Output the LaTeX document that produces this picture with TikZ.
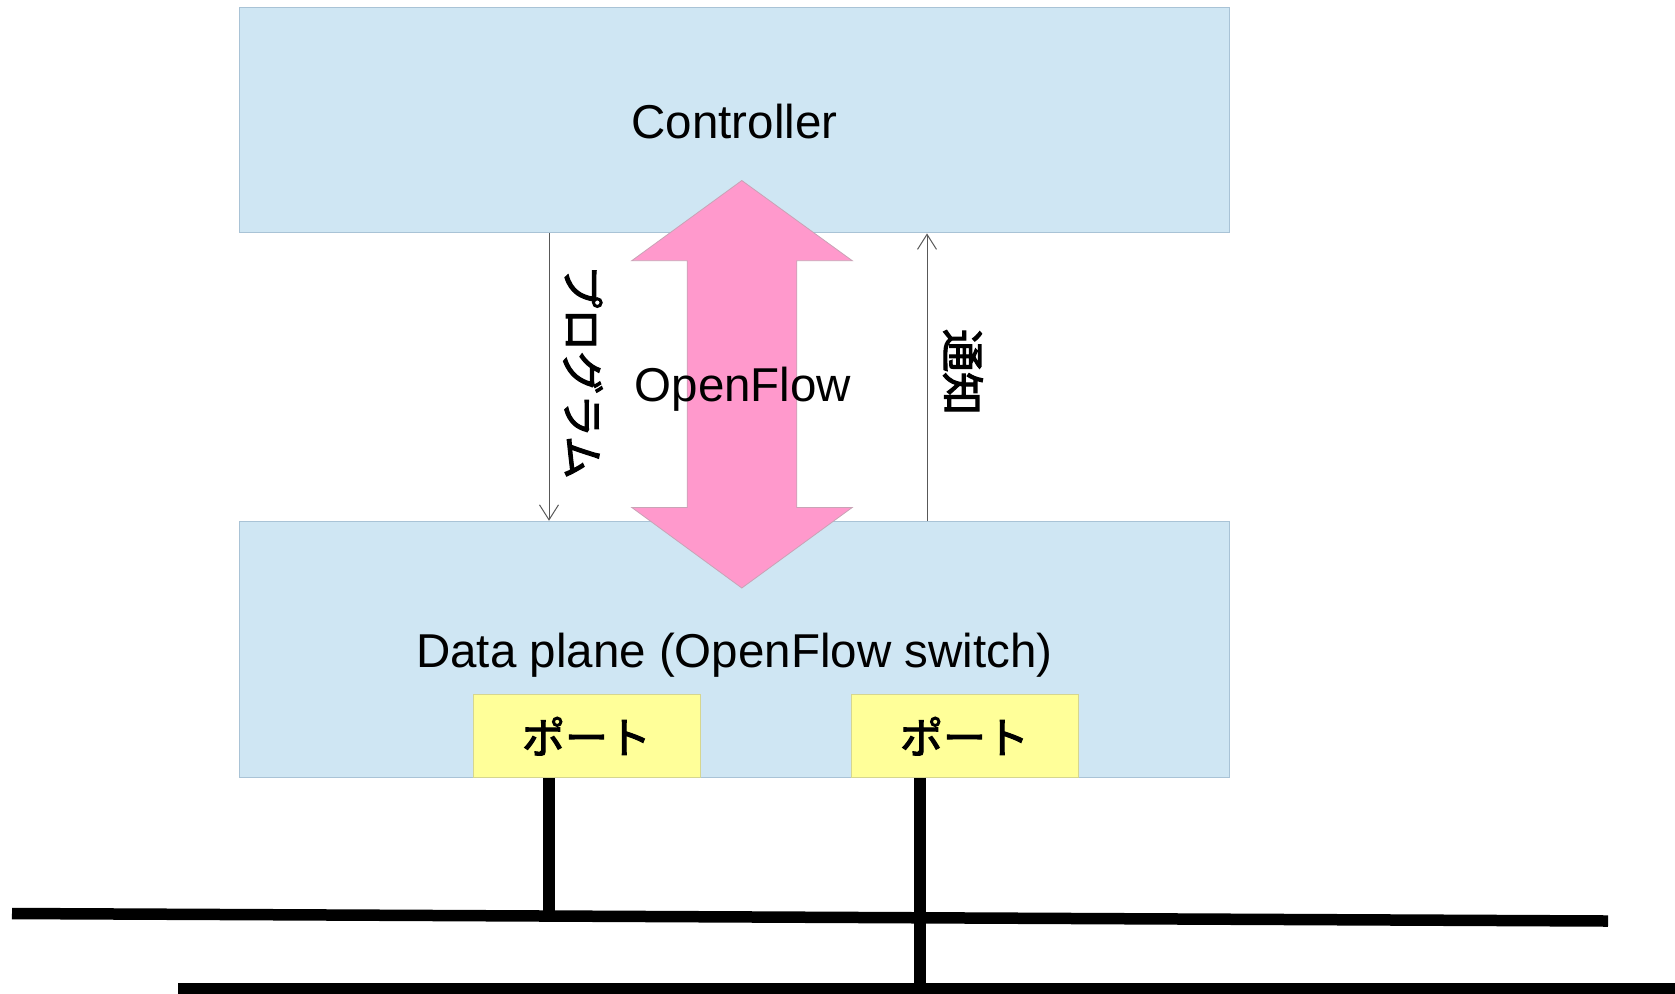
\documentclass[tikz,border=0pt]{standalone}
\usepackage{fontspec}
\setmainfont{Liberation Sans}
\newfontfamily\jpfont{Noto Sans CJK JP}[FakeBold=2.6]
\usetikzlibrary{arrows.meta}

\definecolor{planefill}{HTML}{CFE6F3}
\definecolor{planeedge}{HTML}{A9C3D6}
\definecolor{portfill}{HTML}{FFFF99}
\definecolor{portedge}{HTML}{D6D68F}
\definecolor{flowfill}{HTML}{FF99CC}
\definecolor{flowedge}{HTML}{C9A3B6}
\definecolor{msgline}{HTML}{585858}

\begin{document}
\begin{tikzpicture}[x=0.5pt,y=-0.5pt,
  plane/.style={draw=planeedge, fill=planefill, line width=0.5pt, inner sep=0pt,
                minimum width=495pt},
  portbox/.style={draw=portedge, fill=portfill, line width=0.5pt, inner sep=0pt,
                  minimum width=113.5pt, minimum height=41.25pt,
                  font=\jpfont\fontsize{21.5pt}{24pt}\selectfont},
  lbl/.style={inner sep=0pt, font=\fontsize{23.75pt}{28pt}\selectfont},
  vlbl/.style={inner sep=0pt, rotate=-90, font=\jpfont\fontsize{21.5pt}{24pt}\selectfont},
  msg/.style={draw=msgline, line width=0.5pt, -{Straight Barb[length=7.5pt,width=9.5pt]}},
  cable/.style={draw=black, line width=5.75pt},
  flow/.style={fill=flowfill, draw=flowedge, line width=0.4pt}
]
\clip (0,0) rectangle (1675,993);

% controller and data plane blocks
\node[plane, minimum height=112.75pt] (ctrl) at (734.4,120.2) {};
\node[plane, minimum height=128.25pt] (dp) at (734.4,649.5) {};

% ports of the switch
\node[portbox] (p1) at (586.5,736.2) {ポート};
\node[portbox] (p2) at (964.5,736.2) {ポート};

% OpenFlow double block arrow between the planes
\path[flow] (741.8,180.5) -- (852.3,260.7) -- (796.8,260.7) -- (796.8,507.4)
  -- (852.3,507.4) -- (741.8,588) -- (631.7,507.4) -- (687.2,507.4)
  -- (687.2,260.7) -- (631.7,260.7) -- cycle;

% texts
\node[lbl, anchor=base] (tctrl) at (734.4,138.5) {Controller};
\node[lbl, anchor=base] (tflow) at (743,401.6) {OpenFlow};
\node[lbl, anchor=base] (tdp) at (734.4,667.5) {Data plane (OpenFlow switch)};

% program / notify messages
\coordinate (xprog) at (549,0);
\coordinate (xnote) at (927,0);
\draw[msg] (ctrl.south -| xprog) -- (dp.north -| xprog);
\draw[msg] (dp.north -| xnote) -- (ctrl.south -| xnote);
\node[vlbl] (lprog) at (583,372) {プログラム};
\node[vlbl] (lnote) at (963,372) {通知};

% network segments
\coordinate (busA-w) at (12,913.5);
\coordinate (busA-e) at (1608,921);
\coordinate (busB-w) at (178,989);
\coordinate (busB-e) at (1690,989);
\coordinate (j1) at (549,916);
\coordinate (j2) at (920,989);
\draw[cable] (busA-w) -- (busA-e);
\draw[cable] (busB-w) -- (busB-e);
\draw[cable] (p1.south -| j1) -- (j1);
\draw[cable] (p2.south -| j2) -- (j2);
\end{tikzpicture}
\end{document}
